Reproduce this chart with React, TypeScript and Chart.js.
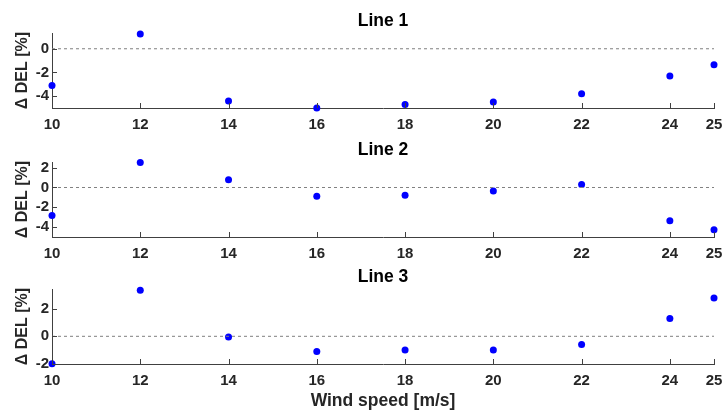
import React, { useEffect, useRef } from "react";
import { Chart, registerables } from "chart.js";

Chart.register(...registerables);

// ---- data ----
const windSpeeds = [10, 12, 14, 16, 18, 20, 22, 24, 25];
const xTickValues = [10, 12, 14, 16, 18, 20, 22, 24, 25];

const line1Del = [-3.1, 1.25, -4.4, -5.0, -4.7, -4.5, -3.8, -2.3, -1.35];
const line2Del = [-2.85, 2.55, 0.8, -0.9, -0.8, -0.35, 0.3, -3.4, -4.3];
const line3Del = [-2.0, 3.35, -0.05, -1.1, -1.0, -1.0, -0.6, 1.3, 2.8];

const line1YLimits = [-5, 1.33];
const line2YLimits = [-5.05, 2.6];
const line3YLimits = [-2.02, 3.45];

const line1YTicks = [-4, -2, 0];
const line2YTicks = [-4, -2, 0, 2];
const line3YTicks = [-2, 0, 2];

const panelTitles = ["Line 1", "Line 2", "Line 3"];
const yAxisTitle = "\u0394 DEL [%]";
const xAxisTitle = "Wind speed [m/s]";
const referenceLevel = 0;

// ---- styles ----
const FONT = "'Liberation Sans', Arial, Helvetica, sans-serif";
const AXIS_COLOR = "#404040";
const TEXT_COLOR = "#262626";
const POINT_COLOR = "#0000ff";
const REF_COLOR = "#808080";

const innerTicksPlugin = {
  id: "innerTicks",
  afterDraw(chart: any) {
    const { ctx, chartArea, scales } = chart;
    ctx.save();
    ctx.strokeStyle = AXIS_COLOR;
    ctx.lineWidth = 1;
    scales.x.ticks.forEach((t: any) => {
      const px = Math.round(scales.x.getPixelForValue(t.value)) + 0.5;
      ctx.beginPath();
      ctx.moveTo(px, chartArea.bottom);
      ctx.lineTo(px, chartArea.bottom - 5);
      ctx.stroke();
    });
    scales.y.ticks.forEach((t: any) => {
      const py = Math.round(scales.y.getPixelForValue(t.value)) + 0.5;
      ctx.beginPath();
      ctx.moveTo(chartArea.left, py);
      ctx.lineTo(chartArea.left + 5, py);
      ctx.stroke();
    });
    ctx.restore();
  },
};

const panelTitlePlugin = {
  id: "panelTitle",
  afterDraw(chart: any, _args: any, opts: any) {
    const { ctx, chartArea } = chart;
    ctx.save();
    ctx.fillStyle = "#000";
    ctx.font = `bold 17.5px ${FONT}`;
    ctx.textAlign = "center";
    ctx.textBaseline = "middle";
    ctx.fillText(opts.text, (chartArea.left + chartArea.right) / 2, chartArea.top - 12);
    ctx.restore();
  },
};

type PanelProps = {
  values: number[];
  yLimits: number[];
  yTicks: number[];
  title: string;
  top: number;
  height: number;
  xAxisHeight: number;
  showXTitle: boolean;
};

function Panel({ values, yLimits, yTicks, title, top, height, xAxisHeight, showXTitle }: PanelProps) {
  const ref = useRef<HTMLCanvasElement | null>(null);

  useEffect(() => {
    if (!ref.current) return;
    const chart = new Chart(ref.current, {
      type: "scatter",
      data: {
        datasets: [
          {
            type: "line",
            data: [windSpeeds[0], windSpeeds[windSpeeds.length - 1]].map((w) => ({ x: w, y: referenceLevel })),
            borderColor: REF_COLOR,
            borderWidth: 1,
            borderDash: [3, 3],
            pointRadius: 0,
            fill: false,
          } as any,
          {
            type: "scatter",
            data: windSpeeds.map((w, i) => ({ x: w, y: values[i] })),
            backgroundColor: POINT_COLOR,
            borderColor: POINT_COLOR,
            pointRadius: 3.5,
            borderWidth: 0,
            clip: false,
          } as any,
        ],
      },
      options: {
        responsive: false,
        animation: false,
        devicePixelRatio: 1,
        layout: { padding: { top: 33, right: 9, left: 0, bottom: 0 }, autoPadding: false } as any,
        plugins: {
          legend: { display: false },
          tooltip: { enabled: false },
          panelTitle: { text: title },
        } as any,
        scales: {
          x: {
            type: "linear",
            min: windSpeeds[0],
            max: windSpeeds[windSpeeds.length - 1],
            grid: { display: false, drawTicks: false },
            border: { display: true, color: AXIS_COLOR, width: 1 },
            afterBuildTicks: (scale: any) => {
              scale.ticks = xTickValues.map((v) => ({ value: v }));
            },
            afterFit: (scale: any) => {
              scale.height = xAxisHeight;
              scale.paddingLeft = 0;
              scale.paddingRight = 0;
            },
            ticks: {
              padding: 8,
              color: TEXT_COLOR,
              font: { family: FONT, size: 15, weight: "bold" },
              maxRotation: 0,
              autoSkip: false,
              callback: (v: any) => String(v),
            },
            title: {
              display: showXTitle,
              text: xAxisTitle,
              color: TEXT_COLOR,
              font: { family: FONT, size: 17.5, weight: "bold" },
              padding: { top: 0, bottom: 0 },
            },
          },
          y: {
            type: "linear",
            min: yLimits[0],
            max: yLimits[1],
            grid: { display: false, drawTicks: false },
            border: { display: true, color: AXIS_COLOR, width: 1 },
            afterBuildTicks: (scale: any) => {
              scale.ticks = yTicks.map((v) => ({ value: v }));
            },
            afterFit: (scale: any) => {
              scale.width = 52;
              scale.paddingTop = 0;
              scale.paddingBottom = 0;
            },
            ticks: {
              padding: 3,
              color: TEXT_COLOR,
              font: { family: FONT, size: 15, weight: "bold" },
              autoSkip: false,
              callback: (v: any) => String(v),
            },
            title: {
              display: true,
              text: yAxisTitle,
              color: TEXT_COLOR,
              font: { family: FONT, size: 16, weight: "bold" },
              padding: { top: 13, bottom: 0 },
            },
          },
        },
      } as any,
      plugins: [innerTicksPlugin, panelTitlePlugin],
    });
    return () => chart.destroy();
  }, [values, yLimits, yTicks, title, xAxisHeight, showXTitle]);

  return (
    <canvas
      ref={ref}
      width={723}
      height={height}
      style={{ position: "absolute", left: 0, top, width: 723, height }}
    />
  );
}

export default function App() {
  return (
    <div style={{ position: "absolute", left: 0, top: 0, width: 723, height: 412, background: "#fff" }}>
      <Panel values={line1Del} yLimits={line1YLimits} yTicks={line1YTicks} title={panelTitles[0]} top={0} height={135} xAxisHeight={27} showXTitle={false} />
      <Panel values={line2Del} yLimits={line2YLimits} yTicks={line2YTicks} title={panelTitles[1]} top={129} height={135} xAxisHeight={27} showXTitle={false} />
      <Panel values={line3Del} yLimits={line3YLimits} yTicks={line3YTicks} title={panelTitles[2]} top={256} height={156} xAxisHeight={48} showXTitle={true} />
    </div>
  );
}
